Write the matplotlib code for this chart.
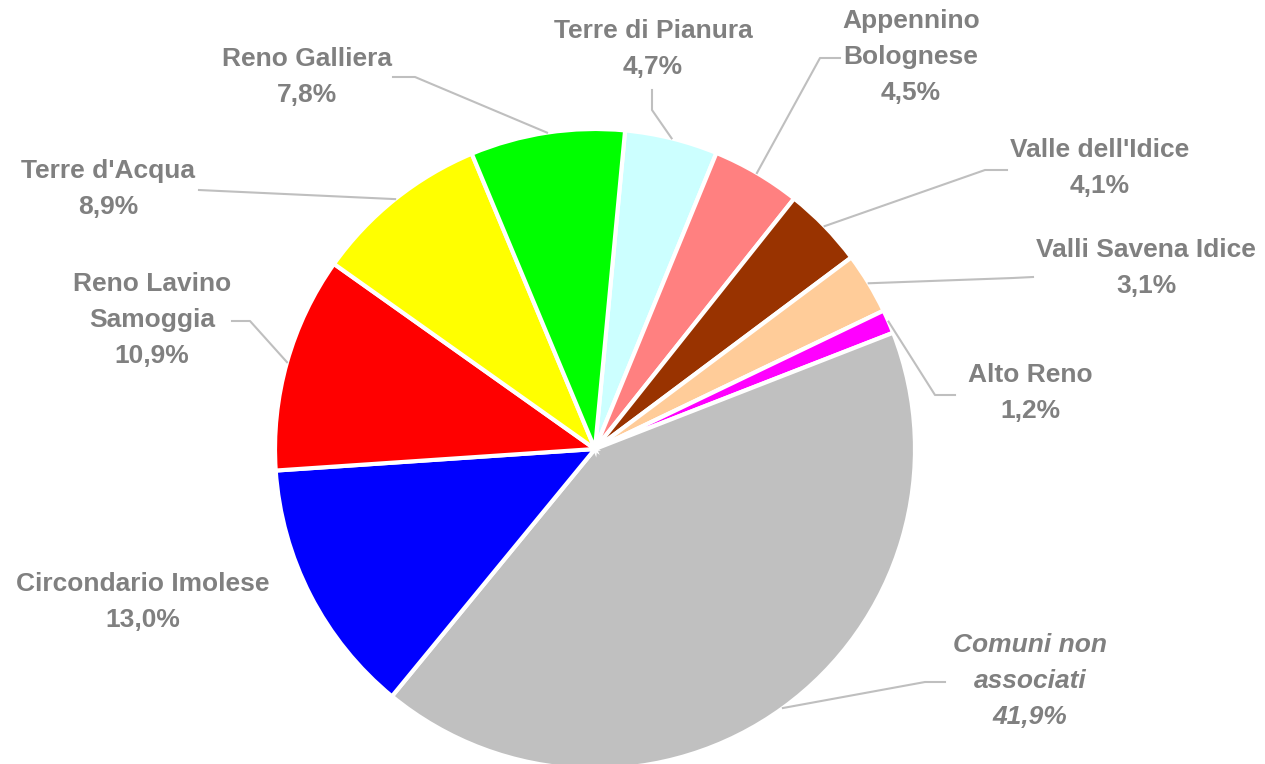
import numpy as np
import matplotlib.pyplot as plt

# data (clockwise from the top)
names = ["Terre di Pianura", "Appennino\nBolognese", "Valle dell'Idice", "Valli Savena Idice",
         "Alto Reno", "Comuni non\nassociati", "Circondario Imolese", "Reno Lavino\nSamoggia",
         "Terre d'Acqua", "Reno Galliera"]
shares = [4.7, 4.5, 4.1, 3.1, 1.2, 41.9, 13.0, 10.9, 8.9, 7.8]
colors = ["#CCFFFF", "#FF8080", "#993300", "#FFCC99", "#FF00FF",
          "#C0C0C0", "#0000FF", "#FF0000", "#FFFF00", "#00FF00"]

W, H = 1265, 764
fig = plt.figure(figsize=(W / 100, H / 100), dpi=100)
ax = fig.add_axes([0, 0, 1, 1])

cx, cy, R = 595, H - 449, 320
wedges, _ = ax.pie(shares, colors=colors, startangle=84.6, counterclock=False,
                   center=(cx, cy), radius=R, frame=True,
                   wedgeprops=dict(edgecolor="white", linewidth=3))
ax.set_xlim(0, W)
ax.set_ylim(0, H)
ax.axis("off")

# label layout in pixel coords (top-left origin): text centre, leader elbow points
layout = [
    ((653, 49), [(652, 90), (652, 110)]),
    ((911, 57), [(840, 58), (820, 58)]),
    ((1100, 168), [(1007, 170), (985, 170)]),
    ((1146, 268), [(1033, 277), (1013, 278)]),
    ((1030, 393), [(955, 395), (935, 395)]),
    ((1030, 681), [(945, 682), (925, 682)]),
    ((143, 602), None),
    ((152, 320), [(232, 321), (250, 321)]),
    ((108, 189), [(199, 190), (220, 191)]),
    ((307, 77), [(393, 77), (415, 77)]),
]

gray = "#808080"
for w, name, val, (pos, elbow) in zip(wedges, names, shares, layout):
    txt = name + "\n" + f"{val:.1f}%".replace(".", ",")
    style = "italic" if name.startswith("Comuni") else "normal"
    ax.text(pos[0], H - pos[1], txt, ha="center", va="center", fontsize=19,
            fontweight="bold", style=style, color=gray, family="Liberation Sans",
            linespacing=1.62)
    if elbow is None:
        continue
    ang = np.deg2rad((w.theta1 + w.theta2) / 2)
    ex, ey = cx + R * np.cos(ang), cy + R * np.sin(ang)
    xs = [p[0] for p in elbow] + [ex]
    ys = [H - p[1] for p in elbow] + [ey]
    ax.plot(xs, ys, color="#BFBFBF", lw=1.5)

fig.savefig("out.png", dpi=100)
